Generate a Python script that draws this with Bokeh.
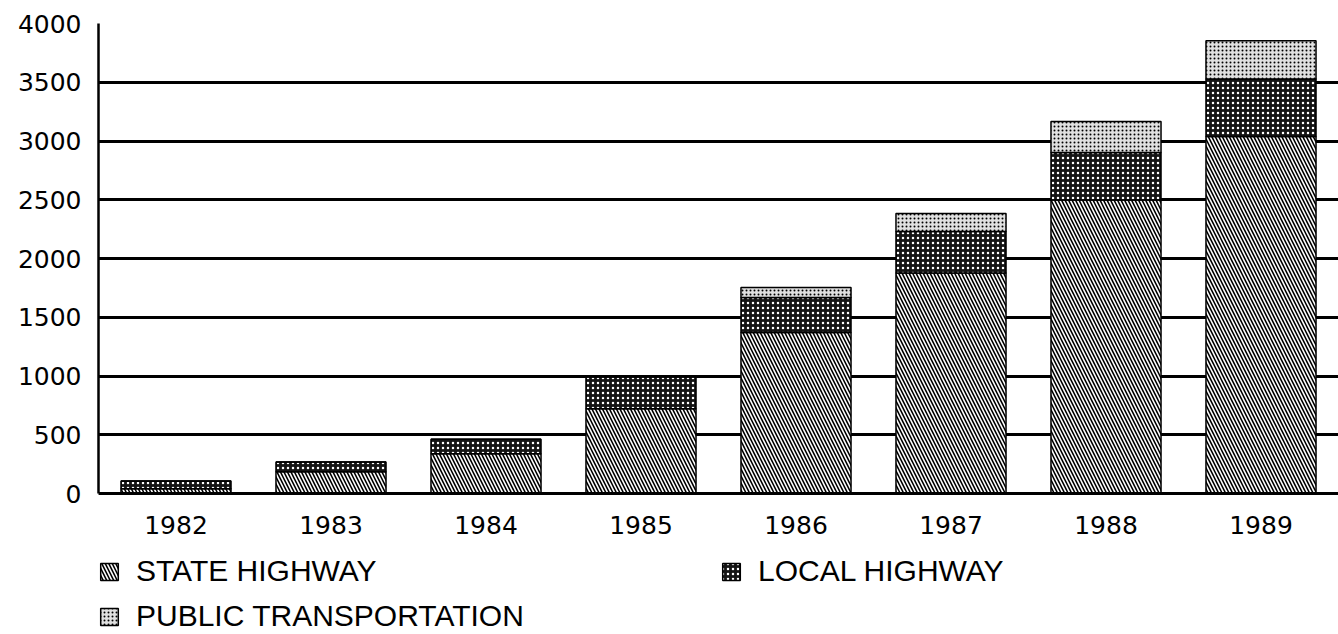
from bokeh.plotting import figure
from bokeh.models import FixedTicker, Legend, LegendItem, Range1d
from bokeh.embed import file_html
from bokeh.resources import INLINE

years = ["1982", "1983", "1984", "1985", "1986", "1987", "1988", "1989"]
state_highway = [40, 186, 339, 722, 1370, 1876, 2497, 3039]
local_highway = [66, 82, 123, 270, 298, 354, 406, 489]
public_transportation = [0, 0, 0, 10, 85, 153, 264, 326]
y_ticks = [0, 500, 1000, 1500, 2000, 2500, 3000, 3500, 4000]
series = ["state_highway", "local_highway", "public_transportation"]
labels = ["STATE HIGHWAY", "LOCAL HIGHWAY", "PUBLIC TRANSPORTATION"]

data = dict(years=years, state_highway=state_highway,
            local_highway=local_highway,
            public_transportation=public_transportation)

# extra room below zero keeps the legend inside the drawing frame
p = figure(x_range=years, y_range=Range1d(-1200, 4000), width=1338, height=634,
           output_backend="svg", toolbar_location=None,
           min_border_left=98, min_border_top=23, min_border_right=0,
           min_border_bottom=0)
p.x_range.range_padding = 0.0
p.outline_line_color = None
p.background_fill_color = "white"

renderers = p.vbar_stack(series, x="years", width=0.71, source=data,
                         fill_color=["white", "#141414", "#e0e0e0"],
                         line_color="black", line_width=1.5,
                         hatch_pattern=["\\", ".", "."],
                         hatch_color=["black", "white", "black"],
                         hatch_scale=[7, 5, 4],
                         hatch_weight=[1.6, 1.2, 1.0])

p.xgrid.grid_line_color = None
p.ygrid.grid_line_color = "black"
p.ygrid.grid_line_width = 2.8
p.yaxis.ticker = FixedTicker(ticks=y_ticks)
p.yaxis.bounds = (0, 4000)
p.yaxis.major_tick_line_color = None
p.yaxis.minor_tick_line_color = None
p.yaxis.major_tick_out = 0
p.yaxis.major_label_standoff = 17
p.yaxis.axis_line_width = 2.5
p.yaxis.major_label_text_font = "DejaVu Sans"
p.yaxis.major_label_text_font_size = "25px"
p.yaxis.major_label_text_color = "black"

p.xaxis.fixed_location = 0
p.xaxis.major_tick_line_color = None
p.xaxis.minor_tick_line_color = None
p.xaxis.major_tick_out = 0
p.xaxis.axis_line_width = 3
p.xaxis.major_label_standoff = 22
p.xaxis.major_label_text_font = "DejaVu Sans"
p.xaxis.major_label_text_font_size = "25px"
p.xaxis.major_label_text_color = "black"

legend_style = dict(orientation="horizontal",
                    glyph_width=22, glyph_height=21, label_standoff=16,
                    spacing=0, padding=0, margin=0,
                    border_line_color=None, background_fill_alpha=0,
                    label_text_font="Liberation Sans",
                    label_text_font_size="30px", label_text_color="black")

legend_top = Legend(items=[LegendItem(label=labels[0], renderers=[renderers[0]]),
                           LegendItem(label=labels[1], renderers=[renderers[1]])],
                    label_width=584, location=(0, 46), **legend_style)
legend_bottom = Legend(items=[LegendItem(label=labels[2], renderers=[renderers[2]])],
                       location=(0, 1), **legend_style)
p.add_layout(legend_top, "center")
p.add_layout(legend_bottom, "center")

open("out.html", "w").write(file_html(p, INLINE))
